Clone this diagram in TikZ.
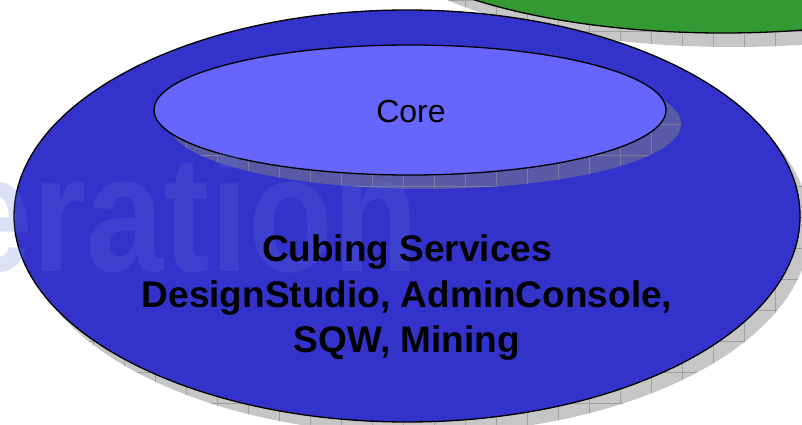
\documentclass[tikz,border=0pt]{standalone}
\usepackage{fontspec}
\setmainfont{Liberation Sans}
\definecolor{bigblue}{HTML}{3333CC}
\definecolor{coreblue}{HTML}{6666FF}
\definecolor{leafgreen}{HTML}{339933}
\definecolor{shadowfill}{HTML}{C6C6C6}
\definecolor{shadowgrid}{HTML}{A0A0A0}
\definecolor{wmark}{HTML}{6476D7}
\begin{document}
\begin{tikzpicture}[x=1pt,y=-1pt,
  outl/.style={draw=black,line width=1.3pt},
  gridlines/.style={draw=shadowgrid,line width=0.6pt,step=31pt}]
\useasboundingbox (0,0) rectangle (802,425);
\clip (0,0) rectangle (802,425);
% green shadow
\begin{scope}
  \clip (733,-73) ellipse [x radius=360, y radius=120];
  \fill[shadowfill] (300,-250) rectangle (1200,200);
  \draw[gridlines] (300,-250) grid (1200,200);
\end{scope}
% green ellipse
\path[fill=leafgreen,outl] (723,-87) ellipse [x radius=360, y radius=120];
% big shadow
\begin{scope}
  \clip (417,228) ellipse [x radius=393, y radius=206];
  \fill[shadowfill] (0,0) rectangle (900,500);
  \draw[gridlines] (0,0) grid (900,500);
\end{scope}
% big ellipse
\path[fill=bigblue,outl] (407,216) ellipse [x radius=393, y radius=206];
% core shadow
\begin{scope}
  \clip (425,124) ellipse [x radius=256, y radius=65];
  \fill[gray,fill opacity=0.5] (100,0) rectangle (750,250);
  \draw[gridlines,draw opacity=0.5] (100,0) grid (750,250);
\end{scope}
% core ellipse
\path[fill=coreblue,outl] (410,110) ellipse [x radius=256, y radius=65];
% watermark
\node[anchor=base west,inner sep=0pt,text=wmark,opacity=0.22,xscale=0.88,yscale=1.05,
      font=\fontsize{158}{158}\selectfont\bfseries] (wm) at (-45,271) {eration};
% texts
\node[inner sep=0pt,font=\fontsize{32}{36}\selectfont] (core) at (411,111) {Core};
\node[inner sep=0pt,align=center,font=\fontsize{37}{45.5}\selectfont\bfseries] (svc) at (407,298)
  {Cubing Services\\DesignStudio, AdminConsole,\\SQW, Mining};
\end{tikzpicture}
\end{document}
